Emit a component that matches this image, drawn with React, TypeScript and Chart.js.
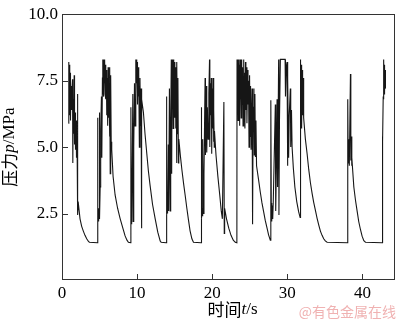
import React, { useEffect, useRef } from 'react';
import { Chart, registerables } from 'chart.js';

Chart.register(...registerables);

// [time t/s, pressure p/MPa] for each working cycle
const cycle1: [number, number][] = [
  [0.85, 5.9], [0.88, 8.2], [0.93, 6.6], [0.98, 8.1], [1.03, 6.2], [1.08, 7.8], [1.13, 6.0], [1.2, 7.3],
  [1.26, 6.4], [1.33, 7.0], [1.4, 7.55], [1.44, 4.4], [1.5, 6.8], [1.56, 5.5], [1.62, 7.7], [1.67, 5.1],
  [1.74, 6.3], [1.8, 4.9], [1.87, 6.0], [1.93, 4.6], [2.0, 5.4], [2.06, 7.0], [2.1, 2.45], [2.15, 2.95],
  [2.4, 2.3], [2.62, 2.02], [2.84, 1.84], [3.06, 1.68], [3.29, 1.55], [3.5, 1.46], [3.64, 1.42], [4.72, 1.4],
];
const cycle2: [number, number][] = [
  [4.74, 6.1], [4.78, 2.4], [4.83, 2.7], [4.87, 2.2], [4.93, 2.5], [4.97, 6.3], [5.02, 2.3], [5.08, 3.5],
  [5.15, 5.6], [5.25, 6.9], [5.3, 4.6], [5.38, 7.6], [5.43, 8.3], [5.47, 7.2], [5.52, 8.3], [5.56, 6.9],
  [5.6, 8.2], [5.65, 7.4], [5.7, 8.3], [5.74, 7.0], [5.8, 8.1], [5.85, 6.8], [5.9, 7.9], [5.96, 6.2],
  [6.02, 7.6], [6.08, 5.8], [6.14, 8.0], [6.2, 6.1], [6.26, 7.4], [6.32, 5.4], [6.38, 8.0], [6.42, 4.0],
  [6.48, 7.7], [6.55, 5.2], [6.62, 4.9], [6.8, 3.9], [7.07, 3.2], [7.4, 2.7], [7.73, 2.32], [8.1, 1.95],
  [8.4, 1.66], [8.65, 1.5], [8.84, 1.42], [9.15, 1.4],
];
const cycle3: [number, number][] = [
  [9.17, 6.5], [9.21, 2.25], [9.25, 2.5], [9.3, 2.1], [9.43, 7.0], [9.47, 2.2], [9.55, 5.0], [9.65, 7.4],
  [9.72, 5.8], [9.8, 8.3], [9.85, 7.0], [9.9, 8.3], [9.95, 7.4], [10.0, 8.2], [10.05, 6.6], [10.12, 8.0],
  [10.18, 6.9], [10.25, 7.8], [10.3, 5.0], [10.38, 7.6], [10.45, 5.8], [10.52, 7.2], [10.58, 1.95],
  [10.62, 6.8], [10.84, 6.3], [11.05, 5.5], [11.29, 4.75], [11.5, 4.1], [11.73, 3.55], [12.05, 2.85],
  [12.4, 2.31], [12.75, 1.8], [13.07, 1.47], [13.2, 1.42], [13.86, 1.4],
];
const cycle4: [number, number][] = [
  [13.89, 6.9], [13.93, 2.8], [13.97, 2.45], [14.01, 2.8], [14.05, 2.5], [14.15, 5.1], [14.2, 2.6],
  [14.3, 7.2], [14.4, 2.6], [14.47, 6.0], [14.55, 8.3], [14.6, 4.0], [14.65, 8.2], [14.7, 6.5], [14.75, 8.3],
  [14.8, 5.7], [14.85, 8.3], [14.9, 7.0], [14.97, 8.2], [15.02, 6.1], [15.1, 8.0], [15.15, 5.7], [15.2, 7.8],
  [15.25, 4.4], [15.3, 8.2], [15.37, 5.5], [15.43, 7.6], [15.5, 4.4], [15.55, 5.3], [15.75, 4.7],
  [15.96, 4.15], [16.2, 3.6], [16.4, 3.18], [16.62, 2.7], [16.84, 2.25], [17.05, 1.85], [17.29, 1.55],
  [17.5, 1.42], [18.51, 1.4],
];
const cycle5: [number, number][] = [
  [18.53, 6.5], [18.57, 2.8], [18.61, 2.3], [18.65, 2.7], [18.69, 2.4], [18.76, 5.3], [18.8, 2.5],
  [18.9, 4.0], [19.05, 7.6], [19.1, 4.7], [19.2, 7.3], [19.27, 4.8], [19.35, 6.5], [19.45, 5.3], [19.55, 7.0],
  [19.64, 8.3], [19.68, 5.0], [19.75, 7.4], [19.82, 6.2], [19.88, 7.6], [19.93, 4.75], [20.0, 7.2],
  [20.06, 5.7], [20.12, 7.6], [20.17, 5.2], [20.22, 6.4], [20.27, 5.0], [20.3, 5.6], [20.5, 4.7],
  [20.75, 3.9], [21.0, 3.2], [21.2, 2.6], [21.35, 2.3], [21.55, 6.7], [21.6, 1.75], [21.65, 2.7],
  [21.9, 2.3], [22.2, 1.95], [22.5, 1.68], [22.8, 1.5], [23.07, 1.42], [23.28, 1.4],
];
const cycle6: [number, number][] = [
  [23.3, 8.3], [23.35, 6.5], [23.4, 8.2], [23.45, 6.0], [23.5, 8.3], [23.55, 6.3], [23.6, 8.1], [23.65, 5.8],
  [23.7, 8.3], [23.75, 6.8], [23.8, 8.2], [23.85, 6.1], [23.92, 8.3], [23.97, 6.6], [24.03, 8.0], [24.1, 5.8],
  [24.16, 8.3], [24.22, 5.9], [24.28, 7.8], [24.35, 5.7], [24.42, 8.2], [24.48, 6.4], [24.55, 8.0],
  [24.62, 5.9], [24.7, 7.9], [24.76, 6.6], [24.83, 7.5], [24.9, 5.0], [24.97, 7.7], [25.03, 5.4],
  [25.1, 7.3], [25.17, 4.9], [25.3, 7.2], [25.37, 2.1], [25.45, 6.5], [25.55, 7.2], [25.6, 4.7],
  [25.68, 7.0], [25.75, 4.65], [25.82, 6.0], [25.9, 4.3], [26.18, 3.75], [26.4, 3.3], [26.62, 2.9],
  [26.84, 2.57], [27.05, 2.25], [27.29, 1.96], [27.5, 1.7], [27.73, 1.5],
];
const cycle7: [number, number][] = [
  [27.8, 6.76], [27.86, 2.9], [27.92, 2.2], [27.98, 2.8], [28.05, 2.3], [28.12, 2.9], [28.4, 6.6],
  [28.45, 2.6], [28.55, 4.5], [28.63, 6.8], [28.7, 3.5], [28.84, 8.3], [28.88, 2.45], [28.95, 6.0],
  [29.07, 8.3], [29.7, 8.3], [29.75, 6.9], [29.85, 8.0], [29.96, 8.2], [30.0, 4.3], [30.08, 7.6],
  [30.17, 4.6], [30.25, 6.2], [30.4, 7.2], [30.45, 5.0], [30.55, 6.4], [30.63, 5.0], [30.8, 4.2],
  [31.0, 3.5], [31.25, 2.95], [31.5, 2.57], [31.7, 2.35], [31.73, 8.3], [31.78, 6.0], [31.85, 8.1],
  [31.9, 5.7], [31.97, 7.9], [32.03, 6.2], [32.1, 7.6], [32.17, 6.1], [32.4, 5.3], [32.63, 4.75],
  [32.85, 4.15], [33.07, 3.66], [33.3, 3.25], [33.5, 2.93], [33.75, 2.6], [33.96, 2.32], [34.2, 2.05],
  [34.4, 1.84], [34.62, 1.68], [34.84, 1.55], [35.05, 1.47], [35.29, 1.42], [38.02, 1.4],
];
const cycle8: [number, number][] = [
  [38.04, 6.8], [38.1, 4.4], [38.17, 5.3], [38.25, 4.3], [38.4, 7.75], [38.45, 4.5], [38.52, 5.4],
  [38.58, 4.3], [38.63, 4.4], [38.85, 3.5], [39.07, 3.0], [39.3, 2.57], [39.5, 2.2], [39.73, 1.9],
  [39.95, 1.65], [40.18, 1.48], [40.4, 1.42], [42.61, 1.4],
];
const cycle9: [number, number][] = [
  [42.63, 5.4], [42.72, 5.2], [42.76, 6.9], [42.8, 6.8], [42.84, 8.3], [42.88, 7.0], [42.92, 8.1],
  [42.96, 7.1], [43.0, 7.9], [43.04, 7.2], [43.08, 7.8],
];

const xTickValues = [0, 10, 20, 30, 40];
const xTickLabels = ['0', '10', '20', '30', '40'];
const yTickValues = [2.5, 5, 7.5, 10];
const yTickLabels = ['2.5', '5.0', '7.5', '10.0'];
const xTitleParts = ['时间', 't', '/s'];
const yTitleParts = ['压力', 'p', '/MPa'];
const watermarkText = '@有色金属在线';

const SERIF = '"Liberation Serif", "Times New Roman", serif';
const CJK = '"Noto Sans CJK SC", sans-serif';

function drawMixed(ctx: CanvasRenderingContext2D, parts: { text: string; font: string }[], cx: number, cy: number) {
  let total = 0;
  const widths = parts.map((p) => {
    ctx.font = p.font;
    const w = ctx.measureText(p.text).width;
    total += w;
    return w;
  });
  let x = cx - total / 2;
  ctx.textBaseline = 'middle';
  ctx.textAlign = 'left';
  parts.forEach((p, i) => {
    ctx.font = p.font;
    ctx.fillText(p.text, x, cy);
    x += widths[i];
  });
}

export default function App() {
  const ref = useRef<HTMLCanvasElement>(null);
  useEffect(() => {
    if (!ref.current) return;
    const all = [...cycle1, ...cycle2, ...cycle3, ...cycle4, ...cycle5, ...cycle6, ...cycle7, ...cycle8, ...cycle9];
    const points = all.map(([x, y]) => ({ x, y }));

    const framePlugin = {
      id: 'framePlugin',
      afterDraw(chart: any) {
        const { ctx, chartArea: a, scales } = chart;
        ctx.save();
        ctx.strokeStyle = '#333';
        ctx.lineWidth = 1;
        const L = Math.round(a.left), T = Math.round(a.top), R = Math.round(a.right), B = Math.round(a.bottom);
        ctx.strokeRect(L + 0.5, T + 0.5, R - L - 1, B - T - 1);
        ctx.beginPath();
        xTickValues.forEach((v) => {
          if (v === 0) return;
          const x = Math.round(scales.x.getPixelForValue(v)) + 0.5;
          ctx.moveTo(x, B - 0.5);
          ctx.lineTo(x, B - 6);
        });
        yTickValues.forEach((v) => {
          if (v === 10) return;
          const y = Math.round(scales.y.getPixelForValue(v)) + 0.5;
          ctx.moveTo(L + 0.5, y);
          ctx.lineTo(L + 6, y);
        });
        ctx.stroke();

        ctx.fillStyle = '#000';
        drawMixed(ctx, [
          { text: xTitleParts[0], font: `17px ${CJK}` },
          { text: xTitleParts[1], font: `italic 17px ${SERIF}` },
          { text: xTitleParts[2], font: `17px ${SERIF}` },
        ], (a.left + a.right) / 2 + 4, 310);

        ctx.save();
        ctx.translate(10, (a.top + a.bottom) / 2);
        ctx.rotate(-Math.PI / 2);
        drawMixed(ctx, [
          { text: yTitleParts[0], font: `17px ${CJK}` },
          { text: yTitleParts[1], font: `italic 17px ${SERIF}` },
          { text: yTitleParts[2], font: `17px ${SERIF}` },
        ], 0, 0);
        ctx.restore();

        ctx.fillStyle = '#f0b2b2';
        ctx.font = `14px ${CJK}`;
        ctx.textAlign = 'right';
        ctx.textBaseline = 'middle';
        ctx.fillText(watermarkText, 396, 312);
        ctx.restore();
      },
    };

    const chart = new Chart(ref.current, {
      type: 'line',
      data: {
        datasets: [
          {
            data: points,
            borderColor: '#161616',
            borderWidth: 1.1,
            pointRadius: 0,
            tension: 0,
            fill: false,
          },
        ],
      },
      options: {
        animation: false,
        responsive: true,
        maintainAspectRatio: false,
        layout: { padding: { top: 6, right: 5, left: 0, bottom: 0 } },
        plugins: { legend: { display: false }, tooltip: { enabled: false } },
        scales: {
          x: {
            type: 'linear',
            min: 0,
            max: 44.33,
            afterFit: (s: any) => { s.height = 40; },
            grid: { display: false, drawTicks: false, tickLength: 0 },
            border: { display: false },
            ticks: {
              stepSize: 10,
              includeBounds: false,
              padding: 3,
              color: '#000',
              font: { family: SERIF, size: 17 },
              maxRotation: 0,
              callback: (v: any) => {
                const i = xTickValues.indexOf(Number(v));
                return i >= 0 ? xTickLabels[i] : '';
              },
            },
          },
          y: {
            type: 'linear',
            min: 0,
            max: 10,
            afterFit: (s: any) => { s.width = 62; },
            grid: { display: false, drawTicks: false, tickLength: 0 },
            border: { display: false },
            ticks: {
              stepSize: 2.5,
              includeBounds: false,
              padding: 4,
              color: '#000',
              font: { family: SERIF, size: 17 },
              callback: (v: any) => {
                const i = yTickValues.indexOf(Number(v));
                return i >= 0 ? yTickLabels[i] : '';
              },
            },
          },
        },
      },
      plugins: [framePlugin],
    });
    return () => chart.destroy();
  }, []);

  return (
    <div style={{ position: 'fixed', left: 0, top: 0, width: 400, height: 320, background: '#fff' }}>
      <canvas ref={ref} />
    </div>
  );
}
